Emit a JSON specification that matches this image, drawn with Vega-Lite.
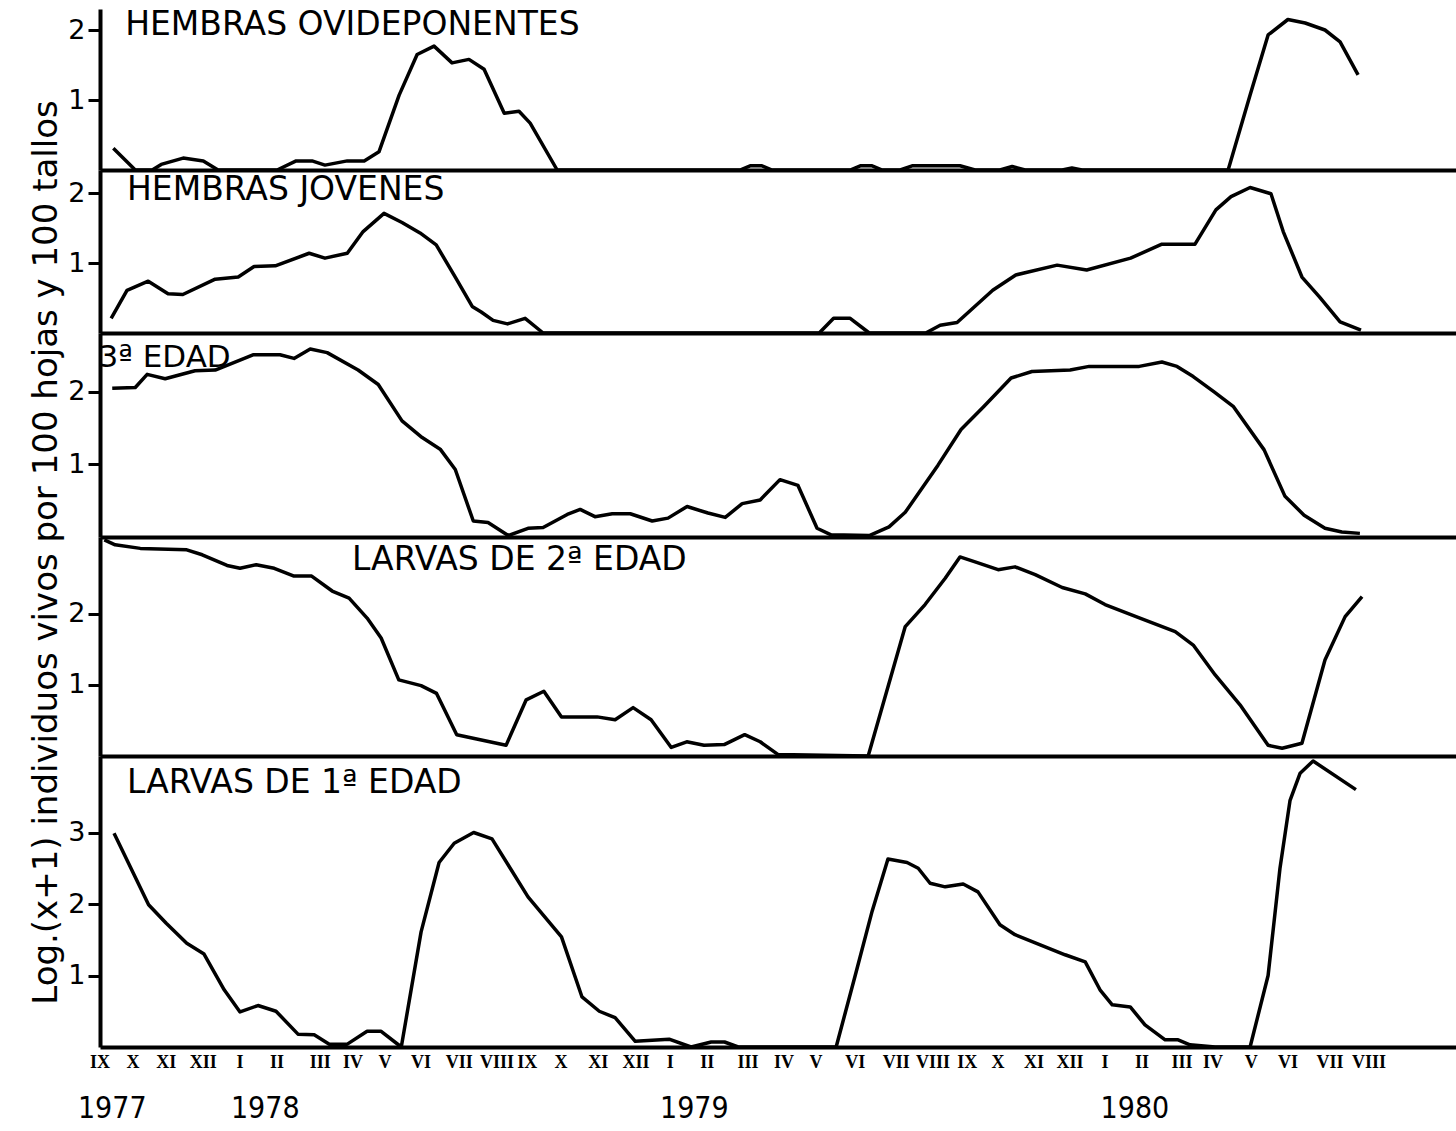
{
  "$schema": "https://vega.github.io/schema/vega-lite/v6.json",
  "padding": {"left": 28, "top": 9, "right": 0, "bottom": 5},
  "background": "white",
  "spacing": 0,
  "bounds": "flush",
  "config": {
    "view": {"stroke": null},
    "axis": {"grid": false, "domainColor": "black", "tickColor": "black", "labelColor": "black", "titleColor": "black"}
  },
  "datasets": {
    "series": [
      {"serie":"ovi","mes":0.31,"valor":0.31},{"serie":"ovi","mes":0.92,"valor":0},{"serie":"ovi","mes":1.39,"valor":0},{"serie":"ovi","mes":1.64,"valor":0.08},{"serie":"ovi","mes":2.25,"valor":0.17},{"serie":"ovi","mes":2.81,"valor":0.13},{"serie":"ovi","mes":3.22,"valor":0},{"serie":"ovi","mes":4.86,"valor":0},{"serie":"ovi","mes":5.39,"valor":0.13},{"serie":"ovi","mes":5.83,"valor":0.13},{"serie":"ovi","mes":6.19,"valor":0.07},{"serie":"ovi","mes":6.81,"valor":0.13},{"serie":"ovi","mes":7.28,"valor":0.13},{"serie":"ovi","mes":7.69,"valor":0.26},{"serie":"ovi","mes":8.25,"valor":1.07},{"serie":"ovi","mes":8.75,"valor":1.65},{"serie":"ovi","mes":9.22,"valor":1.77},{"serie":"ovi","mes":9.72,"valor":1.53},{"serie":"ovi","mes":10.19,"valor":1.58},{"serie":"ovi","mes":10.61,"valor":1.44},{"serie":"ovi","mes":11.17,"valor":0.81},{"serie":"ovi","mes":11.58,"valor":0.84},{"serie":"ovi","mes":11.89,"valor":0.67},{"serie":"ovi","mes":12.64,"valor":0},{"serie":"ovi","mes":17.72,"valor":0},{"serie":"ovi","mes":18.0,"valor":0.06},{"serie":"ovi","mes":18.33,"valor":0.06},{"serie":"ovi","mes":18.61,"valor":0},{"serie":"ovi","mes":20.78,"valor":0},{"serie":"ovi","mes":21.06,"valor":0.06},{"serie":"ovi","mes":21.39,"valor":0.06},{"serie":"ovi","mes":21.67,"valor":0},{"serie":"ovi","mes":22.17,"valor":0},{"serie":"ovi","mes":22.5,"valor":0.06},{"serie":"ovi","mes":23.83,"valor":0.06},{"serie":"ovi","mes":24.25,"valor":0},{"serie":"ovi","mes":24.94,"valor":0},{"serie":"ovi","mes":25.28,"valor":0.05},{"serie":"ovi","mes":25.64,"valor":0},{"serie":"ovi","mes":26.67,"valor":0},{"serie":"ovi","mes":26.94,"valor":0.03},{"serie":"ovi","mes":27.22,"valor":0},{"serie":"ovi","mes":31.28,"valor":0},{"serie":"ovi","mes":31.89,"valor":1.07},{"serie":"ovi","mes":32.39,"valor":1.93},{"serie":"ovi","mes":32.94,"valor":2.15},{"serie":"ovi","mes":33.42,"valor":2.1},{"serie":"ovi","mes":33.97,"valor":2.0},{"serie":"ovi","mes":34.39,"valor":1.83},{"serie":"ovi","mes":34.89,"valor":1.36},

      {"serie":"jov","mes":0.25,"valor":0.21},{"serie":"jov","mes":0.69,"valor":0.61},{"serie":"jov","mes":1.28,"valor":0.74},{"serie":"jov","mes":1.83,"valor":0.56},{"serie":"jov","mes":2.24,"valor":0.55},{"serie":"jov","mes":3.14,"valor":0.77},{"serie":"jov","mes":3.78,"valor":0.8},{"serie":"jov","mes":4.22,"valor":0.95},{"serie":"jov","mes":4.81,"valor":0.96},{"serie":"jov","mes":5.75,"valor":1.14},{"serie":"jov","mes":6.19,"valor":1.07},{"serie":"jov","mes":6.81,"valor":1.14},{"serie":"jov","mes":7.25,"valor":1.45},{"serie":"jov","mes":7.83,"valor":1.71},{"serie":"jov","mes":8.33,"valor":1.58},{"serie":"jov","mes":8.83,"valor":1.43},{"serie":"jov","mes":9.28,"valor":1.26},{"serie":"jov","mes":9.83,"valor":0.78},{"serie":"jov","mes":10.28,"valor":0.38},{"serie":"jov","mes":10.53,"valor":0.3},{"serie":"jov","mes":10.86,"valor":0.18},{"serie":"jov","mes":11.26,"valor":0.13},{"serie":"jov","mes":11.75,"valor":0.21},{"serie":"jov","mes":12.25,"valor":0},{"serie":"jov","mes":19.92,"valor":0},{"serie":"jov","mes":20.32,"valor":0.21},{"serie":"jov","mes":20.78,"valor":0.21},{"serie":"jov","mes":21.31,"valor":0},{"serie":"jov","mes":22.88,"valor":0},{"serie":"jov","mes":23.28,"valor":0.11},{"serie":"jov","mes":23.75,"valor":0.15},{"serie":"jov","mes":24.74,"valor":0.61},{"serie":"jov","mes":25.38,"valor":0.83},{"serie":"jov","mes":26.53,"valor":0.97},{"serie":"jov","mes":27.35,"valor":0.9},{"serie":"jov","mes":28.57,"valor":1.07},{"serie":"jov","mes":29.44,"valor":1.27},{"serie":"jov","mes":30.36,"valor":1.27},{"serie":"jov","mes":30.94,"valor":1.76},{"serie":"jov","mes":31.36,"valor":1.95},{"serie":"jov","mes":31.89,"valor":2.08},{"serie":"jov","mes":32.47,"valor":1.99},{"serie":"jov","mes":32.81,"valor":1.45},{"serie":"jov","mes":33.33,"valor":0.8},{"serie":"jov","mes":33.81,"valor":0.52},{"serie":"jov","mes":34.39,"valor":0.16},{"serie":"jov","mes":34.97,"valor":0.04},

      {"serie":"l3","mes":0.28,"valor":2.05},{"serie":"l3","mes":0.92,"valor":2.06},{"serie":"l3","mes":1.25,"valor":2.24},{"serie":"l3","mes":1.75,"valor":2.18},{"serie":"l3","mes":2.58,"valor":2.29},{"serie":"l3","mes":3.14,"valor":2.3},{"serie":"l3","mes":4.19,"valor":2.51},{"serie":"l3","mes":4.94,"valor":2.51},{"serie":"l3","mes":5.33,"valor":2.46},{"serie":"l3","mes":5.78,"valor":2.59},{"serie":"l3","mes":6.25,"valor":2.54},{"serie":"l3","mes":7.11,"valor":2.3},{"serie":"l3","mes":7.67,"valor":2.1},{"serie":"l3","mes":8.33,"valor":1.6},{"serie":"l3","mes":8.89,"valor":1.37},{"serie":"l3","mes":9.39,"valor":1.21},{"serie":"l3","mes":9.81,"valor":0.93},{"serie":"l3","mes":10.31,"valor":0.22},{"serie":"l3","mes":10.72,"valor":0.2},{"serie":"l3","mes":11.28,"valor":0.02},{"serie":"l3","mes":11.83,"valor":0.12},{"serie":"l3","mes":12.25,"valor":0.13},{"serie":"l3","mes":12.92,"valor":0.31},{"serie":"l3","mes":13.28,"valor":0.38},{"serie":"l3","mes":13.69,"valor":0.28},{"serie":"l3","mes":14.17,"valor":0.32},{"serie":"l3","mes":14.67,"valor":0.32},{"serie":"l3","mes":15.28,"valor":0.22},{"serie":"l3","mes":15.72,"valor":0.26},{"serie":"l3","mes":16.25,"valor":0.42},{"serie":"l3","mes":16.83,"valor":0.33},{"serie":"l3","mes":17.31,"valor":0.27},{"serie":"l3","mes":17.78,"valor":0.46},{"serie":"l3","mes":18.28,"valor":0.51},{"serie":"l3","mes":18.83,"valor":0.79},{"serie":"l3","mes":19.33,"valor":0.71},{"serie":"l3","mes":19.86,"valor":0.12},{"serie":"l3","mes":20.25,"valor":0.03},{"serie":"l3","mes":21.31,"valor":0.02},{"serie":"l3","mes":21.86,"valor":0.14},{"serie":"l3","mes":22.31,"valor":0.34},{"serie":"l3","mes":23.22,"valor":0.99},{"serie":"l3","mes":23.86,"valor":1.48},{"serie":"l3","mes":24.5,"valor":1.8},{"serie":"l3","mes":25.25,"valor":2.19},{"serie":"l3","mes":25.83,"valor":2.28},{"serie":"l3","mes":26.89,"valor":2.3},{"serie":"l3","mes":27.42,"valor":2.35},{"serie":"l3","mes":28.81,"valor":2.35},{"serie":"l3","mes":29.44,"valor":2.41},{"serie":"l3","mes":29.86,"valor":2.35},{"serie":"l3","mes":30.31,"valor":2.21},{"serie":"l3","mes":30.89,"valor":2.0},{"serie":"l3","mes":31.42,"valor":1.8},{"serie":"l3","mes":32.28,"valor":1.2},{"serie":"l3","mes":32.86,"valor":0.56},{"serie":"l3","mes":33.39,"valor":0.3},{"serie":"l3","mes":33.97,"valor":0.12},{"serie":"l3","mes":34.44,"valor":0.07},{"serie":"l3","mes":34.94,"valor":0.05},

      {"serie":"l2","mes":0.06,"valor":3.04},{"serie":"l2","mes":0.36,"valor":2.97},{"serie":"l2","mes":1.06,"valor":2.92},{"serie":"l2","mes":2.35,"valor":2.9},{"serie":"l2","mes":2.78,"valor":2.83},{"serie":"l2","mes":3.47,"valor":2.68},{"serie":"l2","mes":3.83,"valor":2.64},{"serie":"l2","mes":4.28,"valor":2.69},{"serie":"l2","mes":4.78,"valor":2.64},{"serie":"l2","mes":5.33,"valor":2.53},{"serie":"l2","mes":5.82,"valor":2.53},{"serie":"l2","mes":6.39,"valor":2.32},{"serie":"l2","mes":6.86,"valor":2.22},{"serie":"l2","mes":7.36,"valor":1.94},{"serie":"l2","mes":7.75,"valor":1.66},{"serie":"l2","mes":8.24,"valor":1.07},{"serie":"l2","mes":8.86,"valor":0.99},{"serie":"l2","mes":9.29,"valor":0.88},{"serie":"l2","mes":9.85,"valor":0.3},{"serie":"l2","mes":11.22,"valor":0.15},{"serie":"l2","mes":11.78,"valor":0.79},{"serie":"l2","mes":12.27,"valor":0.91},{"serie":"l2","mes":12.76,"valor":0.55},{"serie":"l2","mes":13.75,"valor":0.55},{"serie":"l2","mes":14.25,"valor":0.51},{"serie":"l2","mes":14.75,"valor":0.68},{"serie":"l2","mes":15.25,"valor":0.51},{"serie":"l2","mes":15.81,"valor":0.12},{"serie":"l2","mes":16.24,"valor":0.2},{"serie":"l2","mes":16.72,"valor":0.15},{"serie":"l2","mes":17.28,"valor":0.16},{"serie":"l2","mes":17.85,"valor":0.3},{"serie":"l2","mes":18.28,"valor":0.2},{"serie":"l2","mes":18.78,"valor":0.02},{"serie":"l2","mes":21.28,"valor":0},{"serie":"l2","mes":22.31,"valor":1.82},{"serie":"l2","mes":22.86,"valor":2.13},{"serie":"l2","mes":23.42,"valor":2.5},{"serie":"l2","mes":23.83,"valor":2.8},{"serie":"l2","mes":24.25,"valor":2.73},{"serie":"l2","mes":24.89,"valor":2.62},{"serie":"l2","mes":25.36,"valor":2.66},{"serie":"l2","mes":25.92,"valor":2.55},{"serie":"l2","mes":26.67,"valor":2.37},{"serie":"l2","mes":27.31,"valor":2.28},{"serie":"l2","mes":27.86,"valor":2.13},{"serie":"l2","mes":28.83,"valor":1.94},{"serie":"l2","mes":29.81,"valor":1.75},{"serie":"l2","mes":30.31,"valor":1.56},{"serie":"l2","mes":30.92,"valor":1.14},{"serie":"l2","mes":31.61,"valor":0.72},{"serie":"l2","mes":32.39,"valor":0.15},{"serie":"l2","mes":32.78,"valor":0.11},{"serie":"l2","mes":33.33,"valor":0.18},{"serie":"l2","mes":33.97,"valor":1.35},{"serie":"l2","mes":34.53,"valor":1.96},{"serie":"l2","mes":35.0,"valor":2.24},

      {"serie":"l1","mes":0.33,"valor":2.99},{"serie":"l1","mes":1.29,"valor":1.99},{"serie":"l1","mes":1.78,"valor":1.73},{"serie":"l1","mes":2.35,"valor":1.45},{"serie":"l1","mes":2.83,"valor":1.3},{"serie":"l1","mes":3.39,"valor":0.8},{"serie":"l1","mes":3.83,"valor":0.49},{"serie":"l1","mes":4.33,"valor":0.58},{"serie":"l1","mes":4.83,"valor":0.5},{"serie":"l1","mes":5.44,"valor":0.18},{"serie":"l1","mes":5.89,"valor":0.17},{"serie":"l1","mes":6.31,"valor":0.04},{"serie":"l1","mes":6.81,"valor":0.04},{"serie":"l1","mes":7.36,"valor":0.22},{"serie":"l1","mes":7.75,"valor":0.22},{"serie":"l1","mes":8.31,"valor":0},{"serie":"l1","mes":8.86,"valor":1.61},{"serie":"l1","mes":9.36,"valor":2.58},{"serie":"l1","mes":9.78,"valor":2.85},{"serie":"l1","mes":10.32,"valor":3.0},{"serie":"l1","mes":10.83,"valor":2.91},{"serie":"l1","mes":11.83,"valor":2.1},{"serie":"l1","mes":12.76,"valor":1.54},{"serie":"l1","mes":13.33,"valor":0.7},{"serie":"l1","mes":13.81,"valor":0.5},{"serie":"l1","mes":14.25,"valor":0.41},{"serie":"l1","mes":14.81,"valor":0.08},{"serie":"l1","mes":15.75,"valor":0.11},{"serie":"l1","mes":16.36,"valor":0},{"serie":"l1","mes":16.92,"valor":0.07},{"serie":"l1","mes":17.29,"valor":0.07},{"serie":"l1","mes":17.67,"valor":0},{"serie":"l1","mes":20.39,"valor":0},{"serie":"l1","mes":20.92,"valor":1.0},{"serie":"l1","mes":21.39,"valor":1.9},{"serie":"l1","mes":21.83,"valor":2.63},{"serie":"l1","mes":22.36,"valor":2.58},{"serie":"l1","mes":22.67,"valor":2.5},{"serie":"l1","mes":23.0,"valor":2.29},{"serie":"l1","mes":23.42,"valor":2.24},{"serie":"l1","mes":23.92,"valor":2.28},{"serie":"l1","mes":24.33,"valor":2.17},{"serie":"l1","mes":24.94,"valor":1.71},{"serie":"l1","mes":25.36,"valor":1.57},{"serie":"l1","mes":26.06,"valor":1.43},{"serie":"l1","mes":26.75,"valor":1.29},{"serie":"l1","mes":27.31,"valor":1.19},{"serie":"l1","mes":27.72,"valor":0.8},{"serie":"l1","mes":28.06,"valor":0.59},{"serie":"l1","mes":28.56,"valor":0.56},{"serie":"l1","mes":28.97,"valor":0.31},{"serie":"l1","mes":29.53,"valor":0.1},{"serie":"l1","mes":29.89,"valor":0.1},{"serie":"l1","mes":30.22,"valor":0.03},{"serie":"l1","mes":30.92,"valor":0},{"serie":"l1","mes":31.89,"valor":0},{"serie":"l1","mes":32.39,"valor":1.0},{"serie":"l1","mes":32.72,"valor":2.5},{"serie":"l1","mes":33.0,"valor":3.45},{"serie":"l1","mes":33.28,"valor":3.83},{"serie":"l1","mes":33.64,"valor":4.0},{"serie":"l1","mes":34.83,"valor":3.6}
    ],
    "meses": [
      {"mes":-0.06,"nombre":"IX"},{"mes":0.86,"nombre":"X"},{"mes":1.78,"nombre":"XI"},{"mes":2.81,"nombre":"XII"},{"mes":3.83,"nombre":"I"},{"mes":4.86,"nombre":"II"},{"mes":6.06,"nombre":"III"},{"mes":6.97,"nombre":"IV"},{"mes":7.86,"nombre":"V"},{"mes":8.86,"nombre":"VI"},{"mes":9.92,"nombre":"VII"},{"mes":10.97,"nombre":"VIII"},
      {"mes":11.81,"nombre":"IX"},{"mes":12.75,"nombre":"X"},{"mes":13.78,"nombre":"XI"},{"mes":14.83,"nombre":"XII"},{"mes":15.78,"nombre":"I"},{"mes":16.81,"nombre":"II"},{"mes":17.94,"nombre":"III"},{"mes":18.94,"nombre":"IV"},{"mes":19.83,"nombre":"V"},{"mes":20.92,"nombre":"VI"},{"mes":22.06,"nombre":"VII"},{"mes":23.08,"nombre":"VIII"},
      {"mes":24.03,"nombre":"IX"},{"mes":24.89,"nombre":"X"},{"mes":25.89,"nombre":"XI"},{"mes":26.89,"nombre":"XII"},{"mes":27.86,"nombre":"I"},{"mes":28.89,"nombre":"II"},{"mes":30.0,"nombre":"III"},{"mes":30.86,"nombre":"IV"},{"mes":31.92,"nombre":"V"},{"mes":32.94,"nombre":"VI"},{"mes":34.11,"nombre":"VII"},{"mes":35.19,"nombre":"VIII"}
    ],
    "anios": [
      {"anio":"1977","mes":0.28},{"anio":"1978","mes":4.53},{"anio":"1979","mes":16.45},{"anio":"1980","mes":28.69}
    ]
  },
  "vconcat": [
    {
      "width": 1356, "height": 161,
      "layer": [
        {
          "data": {"name": "series"},
          "transform": [{"filter": "datum.serie == 'ovi'"}],
          "mark": {"type": "line", "color": "black", "strokeWidth": 3.5, "strokeJoin": "round"},
          "encoding": {
            "x": {"field": "mes", "type": "quantitative", "scale": {"domain": [-0.06, 37.61], "nice": false, "zero": false}, "axis": {"title": null, "labels": false, "ticks": false, "domainWidth": 4}},
            "y": {"field": "valor", "type": "quantitative", "scale": {"domain": [0, 2.3], "nice": false}, "axis": {"title": null, "values": [1, 2], "format": "d", "domainWidth": 4, "tickSize": 12, "tickWidth": 3, "labelFontSize": 27, "labelFont": "DejaVu Sans", "labelPadding": 3}}
          }
        },
        {
          "data": {"values": [{}]},
          "mark": {"type": "text", "align": "left", "baseline": "middle", "font": "DejaVu Sans", "fontSize": 33, "color": "black"},
          "encoding": {"x": {"datum": 0.64}, "y": {"datum": 2.07}, "text": {"value": "HEMBRAS OVIDEPONENTES"}}
        }
      ]
    },
    {
      "width": 1356, "height": 163,
      "layer": [
        {
          "data": {"name": "series"},
          "transform": [{"filter": "datum.serie == 'jov'"}],
          "mark": {"type": "line", "color": "black", "strokeWidth": 3.5, "strokeJoin": "round"},
          "encoding": {
            "x": {"field": "mes", "type": "quantitative", "scale": {"domain": [-0.06, 37.61], "nice": false, "zero": false}, "axis": {"title": null, "labels": false, "ticks": false, "domainWidth": 4}},
            "y": {"field": "valor", "type": "quantitative", "scale": {"domain": [0, 2.33], "nice": false}, "axis": {"title": null, "values": [1, 2], "format": "d", "domainWidth": 4, "tickSize": 12, "tickWidth": 3, "labelFontSize": 27, "labelFont": "DejaVu Sans", "labelPadding": 3}}
          }
        },
        {
          "data": {"values": [{}]},
          "mark": {"type": "text", "align": "left", "baseline": "middle", "font": "DejaVu Sans", "fontSize": 33, "color": "black"},
          "encoding": {"x": {"datum": 0.69}, "y": {"datum": 2.04}, "text": {"value": "HEMBRAS JOVENES"}}
        }
      ]
    },
    {
      "width": 1356, "height": 204,
      "layer": [
        {
          "data": {"name": "series"},
          "transform": [{"filter": "datum.serie == 'l3'"}],
          "mark": {"type": "line", "color": "black", "strokeWidth": 3.5, "strokeJoin": "round"},
          "encoding": {
            "x": {"field": "mes", "type": "quantitative", "scale": {"domain": [-0.06, 37.61], "nice": false, "zero": false}, "axis": {"title": null, "labels": false, "ticks": false, "domainWidth": 4}},
            "y": {"field": "valor", "type": "quantitative", "scale": {"domain": [0, 2.81], "nice": false}, "axis": {"title": "Log.(x+1) individuos vivos por 100 hojas y 100 tallos", "titleFont": "DejaVu Sans", "titleFontSize": 34, "titleFontWeight": "normal", "titleAngle": 270, "titleAlign": "center", "titleBaseline": "middle", "titleX": -54, "titleY": 219, "values": [1, 2], "format": "d", "domainWidth": 4, "tickSize": 12, "tickWidth": 3, "labelFontSize": 27, "labelFont": "DejaVu Sans", "labelPadding": 3}}
          }
        },
        {
          "data": {"values": [{}]},
          "mark": {"type": "text", "align": "left", "baseline": "middle", "font": "DejaVu Sans", "fontSize": 31, "color": "black"},
          "encoding": {"x": {"datum": -0.1}, "y": {"datum": 2.47}, "text": {"value": "3ª EDAD"}}
        }
      ]
    },
    {
      "width": 1356, "height": 219,
      "layer": [
        {
          "data": {"name": "series"},
          "transform": [{"filter": "datum.serie == 'l2'"}],
          "mark": {"type": "line", "color": "black", "strokeWidth": 3.5, "strokeJoin": "round"},
          "encoding": {
            "x": {"field": "mes", "type": "quantitative", "scale": {"domain": [-0.06, 37.61], "nice": false, "zero": false}, "axis": {"title": null, "labels": false, "ticks": false, "domainWidth": 4}},
            "y": {"field": "valor", "type": "quantitative", "scale": {"domain": [0, 3.08], "nice": false}, "axis": {"title": null, "values": [1, 2], "format": "d", "domainWidth": 4, "tickSize": 12, "tickWidth": 3, "labelFontSize": 27, "labelFont": "DejaVu Sans", "labelPadding": 3}}
          }
        },
        {
          "data": {"values": [{}]},
          "mark": {"type": "text", "align": "left", "baseline": "middle", "font": "DejaVu Sans", "fontSize": 33, "color": "black"},
          "encoding": {"x": {"datum": 6.94}, "y": {"datum": 2.75}, "text": {"value": "LARVAS DE 2ª EDAD"}}
        }
      ]
    },
    {
      "width": 1356, "height": 291,
      "layer": [
        {
          "data": {"name": "series"},
          "transform": [{"filter": "datum.serie == 'l1'"}],
          "mark": {"type": "line", "color": "black", "strokeWidth": 3.5, "strokeJoin": "round"},
          "encoding": {
            "x": {"field": "mes", "type": "quantitative", "scale": {"domain": [-0.06, 37.61], "nice": false, "zero": false}, "axis": {"title": null, "ticks": false, "labels": false, "domainWidth": 4}},
            "y": {"field": "valor", "type": "quantitative", "scale": {"domain": [0, 4.07], "nice": false}, "axis": {"title": null, "values": [1, 2, 3], "format": "d", "domainWidth": 4, "tickSize": 12, "tickWidth": 3, "labelFontSize": 27, "labelFont": "DejaVu Sans", "labelPadding": 3}}
          }
        },
        {
          "data": {"values": [{}]},
          "mark": {"type": "text", "align": "left", "baseline": "middle", "font": "DejaVu Sans", "fontSize": 33, "color": "black"},
          "encoding": {"x": {"datum": 0.69}, "y": {"datum": 3.69}, "text": {"value": "LARVAS DE 1ª EDAD"}}
        },
        {
          "data": {"name": "meses"},
          "mark": {"type": "text", "align": "center", "baseline": "middle", "font": "Liberation Serif", "fontWeight": "bold", "fontSize": 18, "color": "black"},
          "encoding": {"x": {"field": "mes", "type": "quantitative"}, "y": {"datum": -0.22}, "text": {"field": "nombre"}}
        },
        {
          "data": {"name": "anios"},
          "mark": {"type": "text", "align": "center", "baseline": "middle", "font": "DejaVu Sans Condensed", "fontSize": 30, "color": "black"},
          "encoding": {"x": {"field": "mes", "type": "quantitative"}, "y": {"datum": -0.87}, "text": {"field": "anio"}}
        }
      ]
    }
  ]
}
